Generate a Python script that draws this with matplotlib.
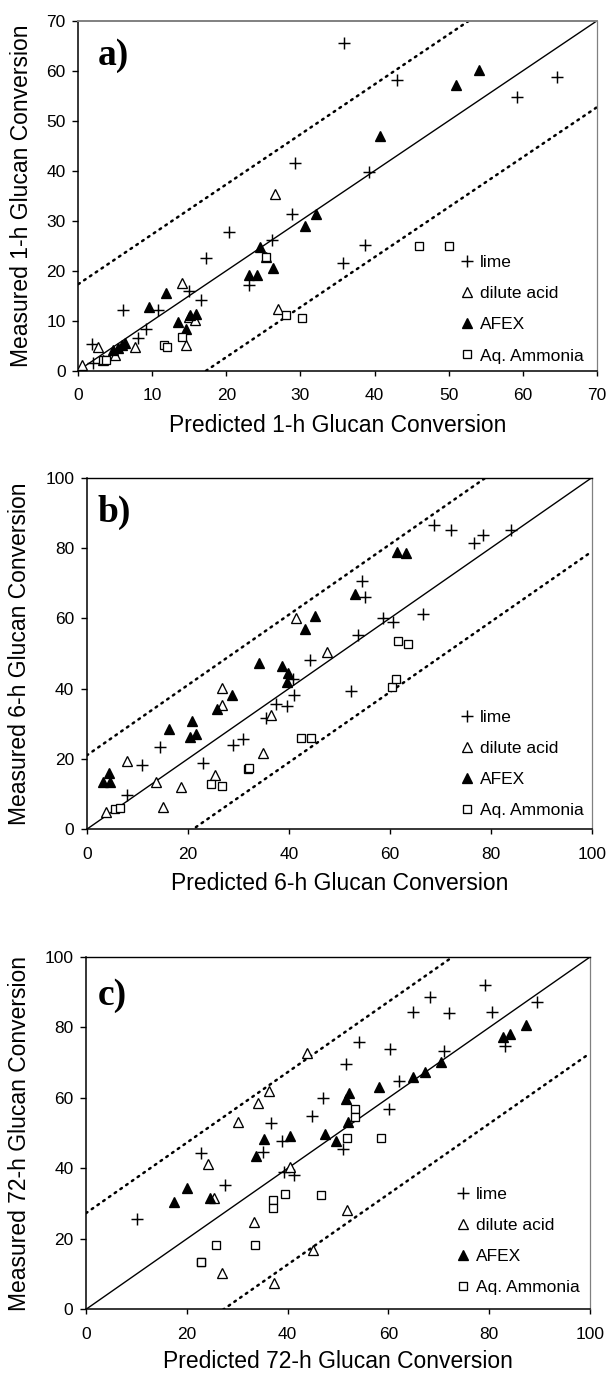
import matplotlib
matplotlib.use("Agg")
import matplotlib.pyplot as plt
from matplotlib.lines import Line2D

plt.rcParams['font.family'] = ['Liberation Sans', 'DejaVu Sans']

# ---- Panel a: 1-h glucan conversion ----
a_lime_x = [1.9, 2.0, 6.1, 8.1, 9.1, 10.8, 15.0, 16.6, 17.3, 20.4, 23.0, 26.1, 28.8, 29.3,
            35.9, 43.0, 39.2, 38.7, 35.8, 59.3, 64.6]
a_lime_y = [5.4, 1.6, 12.1, 6.6, 8.4, 12.1, 15.9, 14.1, 22.5, 27.7, 17.1, 26.1, 31.3, 41.6,
            65.5, 58.2, 39.7, 25.1, 21.5, 54.7, 58.8]
a_acid_x = [0.45, 2.6, 3.4, 5.0, 7.7, 14.0, 14.5, 14.9, 15.8, 25.4, 26.6, 27.0]
a_acid_y = [1.1, 4.8, 2.2, 3.2, 4.8, 17.5, 5.2, 10.8, 10.1, 22.8, 35.4, 12.3]
a_afex_x = [4.7, 5.4, 5.9, 6.3, 9.6, 11.8, 13.4, 14.5, 15.1, 15.9, 23.0, 24.1, 24.5, 26.3,
            30.6, 32.1, 40.7, 51.0, 54.1]
a_afex_y = [4.1, 4.6, 5.1, 5.6, 12.8, 15.6, 9.8, 8.4, 11.1, 11.3, 19.1, 19.1, 24.7, 20.5,
            28.9, 31.3, 47.0, 57.2, 60.2]
a_aq_x = [3.4, 3.8, 11.6, 12.0, 14.0, 25.3, 28.0, 30.2, 46.0, 50.1]
a_aq_y = [2.1, 2.2, 5.1, 4.8, 6.8, 22.8, 11.1, 10.5, 25.0, 25.0]

# ---- Panel b: 6-h glucan conversion ----
b_lime_x = [8.0, 10.9, 14.6, 23.1, 28.9, 30.9, 35.5, 37.5, 39.7, 41.0, 40.8, 44.2, 54.4, 55.1,
            53.6, 52.4, 58.6, 60.6, 66.5, 68.7, 72.0, 76.7, 78.5, 84.0]
b_lime_y = [9.8, 18.3, 23.5, 18.8, 24.0, 25.6, 31.5, 35.6, 35.0, 38.2, 42.6, 48.1, 70.6, 65.9,
            55.2, 39.4, 60.0, 58.8, 61.2, 86.5, 85.1, 81.3, 83.7, 85.1]
b_acid_x = [3.8, 8.0, 13.7, 15.0, 18.6, 25.3, 26.7, 26.7, 34.8, 36.5, 41.4, 47.5]
b_acid_y = [5.0, 19.5, 13.4, 6.3, 11.9, 15.4, 40.1, 35.3, 21.8, 32.5, 60.0, 50.5]
b_afex_x = [3.3, 4.5, 4.6, 16.3, 20.8, 20.4, 21.6, 25.7, 28.7, 34.0, 38.7, 39.9, 39.7, 43.1,
            45.2, 53.0, 61.5, 63.2]
b_afex_y = [13.4, 15.9, 13.5, 28.4, 30.9, 26.3, 27.1, 34.1, 38.2, 47.2, 46.5, 44.5, 42.0, 56.9,
            60.7, 66.9, 78.9, 78.5]
b_aq_x = [5.6, 6.5, 24.5, 26.8, 31.9, 32.1, 42.4, 44.3, 61.7, 63.6, 60.4, 61.2]
b_aq_y = [5.7, 6.0, 12.8, 12.3, 17.1, 17.3, 25.9, 25.9, 53.5, 52.6, 40.4, 42.6]

# ---- Panel c: 72-h glucan conversion ----
c_lime_x = [10.1, 22.8, 27.6, 35.1, 36.8, 38.8, 39.2, 41.3, 44.9, 47.1, 51.6, 54.2, 60.3, 62.1,
            60.1, 50.9, 64.9, 68.3, 72.1, 71.1, 79.2, 80.6, 83.1, 89.4]
c_lime_y = [25.5, 44.3, 35.3, 44.7, 53.0, 47.8, 39.1, 38.1, 54.9, 59.9, 69.6, 75.8, 73.9, 64.9,
            57.0, 45.4, 84.5, 88.7, 84.0, 73.4, 92.1, 84.5, 74.7, 87.3]
c_acid_x = [24.3, 25.3, 26.9, 30.2, 33.4, 34.1, 36.4, 37.3, 40.5, 43.8, 45.1, 51.7]
c_acid_y = [41.2, 31.5, 10.2, 53.3, 24.9, 58.5, 62.1, 7.4, 40.3, 72.7, 16.8, 28.2]
c_afex_x = [17.5, 20.1, 24.6, 33.7, 35.4, 40.5, 47.4, 49.6, 51.6, 52.2, 52.0, 58.1, 64.9, 67.3,
            70.4, 82.7, 84.1, 87.4]
c_afex_y = [30.5, 34.3, 31.5, 43.5, 48.3, 49.2, 49.7, 47.8, 59.6, 61.3, 53.3, 63.2, 65.9, 67.3,
            70.1, 77.4, 78.1, 80.7]
c_aq_x = [22.8, 22.9, 25.7, 33.5, 37.2, 37.2, 39.5, 46.6, 53.4, 53.4, 51.7, 58.5]
c_aq_y = [13.5, 13.3, 18.4, 18.4, 31.0, 28.7, 32.7, 32.4, 57.0, 54.7, 48.5, 48.5]

series_names = ['lime', 'dilute acid', 'AFEX', 'Aq. Ammonia']
axis_max = [70, 100, 100]
tick_step = [10, 20, 20]
band_width = [17.3, 21.0, 27.3]
hours = ['1', '6', '72']
panel_letters = ['a)', 'b)', 'c)']

marker_styles = [
    dict(marker='+', markersize=8, markeredgewidth=1.05, color='black'),
    dict(marker='^', markersize=7.8, markeredgewidth=0.95, markerfacecolor='white', markeredgecolor='black'),
    dict(marker='^', markersize=7.8, markeredgewidth=0.95, markerfacecolor='black', markeredgecolor='black'),
    dict(marker='s', markersize=6.0, markeredgewidth=0.95, markerfacecolor='white', markeredgecolor='black'),
]

# axes rectangles in figure fractions
axes_rects = [
    [0.1286, 0.7317, 0.8512, 0.2531],
    [0.1424, 0.3995, 0.8297, 0.2547],
    [0.1412, 0.0519, 0.8276, 0.2551],
]
letter_pos = [(0.037, 0.874), (0.021, 0.874), (0.023, 0.864)]
legend_anchor = [(0.736, 0.020), (0.738, 0.031), (0.734, 0.040)]
xlabel_y = [-0.156, -0.155, -0.147]
ylabel_x = [-0.110, -0.133, -0.131]
top_colors = ['#808080', 'black', 'black']

panels = [
    [(a_lime_x, a_lime_y), (a_acid_x, a_acid_y), (a_afex_x, a_afex_y), (a_aq_x, a_aq_y)],
    [(b_lime_x, b_lime_y), (b_acid_x, b_acid_y), (b_afex_x, b_afex_y), (b_aq_x, b_aq_y)],
    [(c_lime_x, c_lime_y), (c_acid_x, c_acid_y), (c_afex_x, c_afex_y), (c_aq_x, c_aq_y)],
]

fig = plt.figure(figsize=(6.09, 13.81), dpi=100)

for i, data in enumerate(panels):
    ax = fig.add_axes(axes_rects[i])
    lim = axis_max[i]
    band = band_width[i]

    # parity line and prediction band
    ax.plot([0, lim], [0, lim], color='black', lw=1.0, zorder=2)
    for sign in (1, -1):
        ax.plot([0, lim], [sign * band, lim + sign * band], color='black', lw=1.8,
                linestyle=(0, (0.7, 2.1)), dash_capstyle='round', zorder=2)

    handles = []
    for (xs, ys), style, name in zip(data, marker_styles, series_names):
        ax.plot(xs, ys, linestyle='none', zorder=3, **style)
        handles.append(Line2D([], [], linestyle='none', label=name, **style))

    ax.set_xlim(0, lim)
    ax.set_ylim(0, lim)
    ticks = list(range(0, lim + 1, tick_step[i]))
    ax.set_xticks(ticks)
    ax.set_yticks(ticks)
    ax.tick_params(axis='x', direction='out', length=3.5, width=1.0, pad=9, labelsize=12.5)
    ax.tick_params(axis='y', direction='out', length=4, width=1.0, pad=5, labelsize=12.5)

    for side in ('left', 'bottom'):
        ax.spines[side].set_color('black')
        ax.spines[side].set_linewidth(1.1)
    ax.spines['top'].set_color(top_colors[i])
    ax.spines['top'].set_linewidth(1.4 if i == 0 else 1.0)
    ax.spines['right'].set_color('#808080')
    ax.spines['right'].set_linewidth(0.9)

    ax.set_xlabel(f'Predicted {hours[i]}-h Glucan Conversion', fontsize=16.5)
    ax.set_ylabel(f'Measured {hours[i]}-h Glucan Conversion', fontsize=16.5)
    ax.xaxis.label.set_va('center')
    ax.yaxis.label.set_va('center')
    ax.xaxis.set_label_coords(0.5, xlabel_y[i])
    ax.yaxis.set_label_coords(ylabel_x[i], 0.5)

    ax.text(letter_pos[i][0], letter_pos[i][1], panel_letters[i], transform=ax.transAxes,
            family=['Liberation Serif', 'DejaVu Serif'], fontweight='bold', fontsize=27,
            ha='left', va='baseline')

    ax.legend(handles=handles, loc='lower left', bbox_to_anchor=legend_anchor[i],
              frameon=False, fontsize=12.5, handlelength=0.8, handletextpad=0.37,
              labelspacing=0.92, borderpad=0, borderaxespad=0)

fig.savefig('out.png', dpi=100)
